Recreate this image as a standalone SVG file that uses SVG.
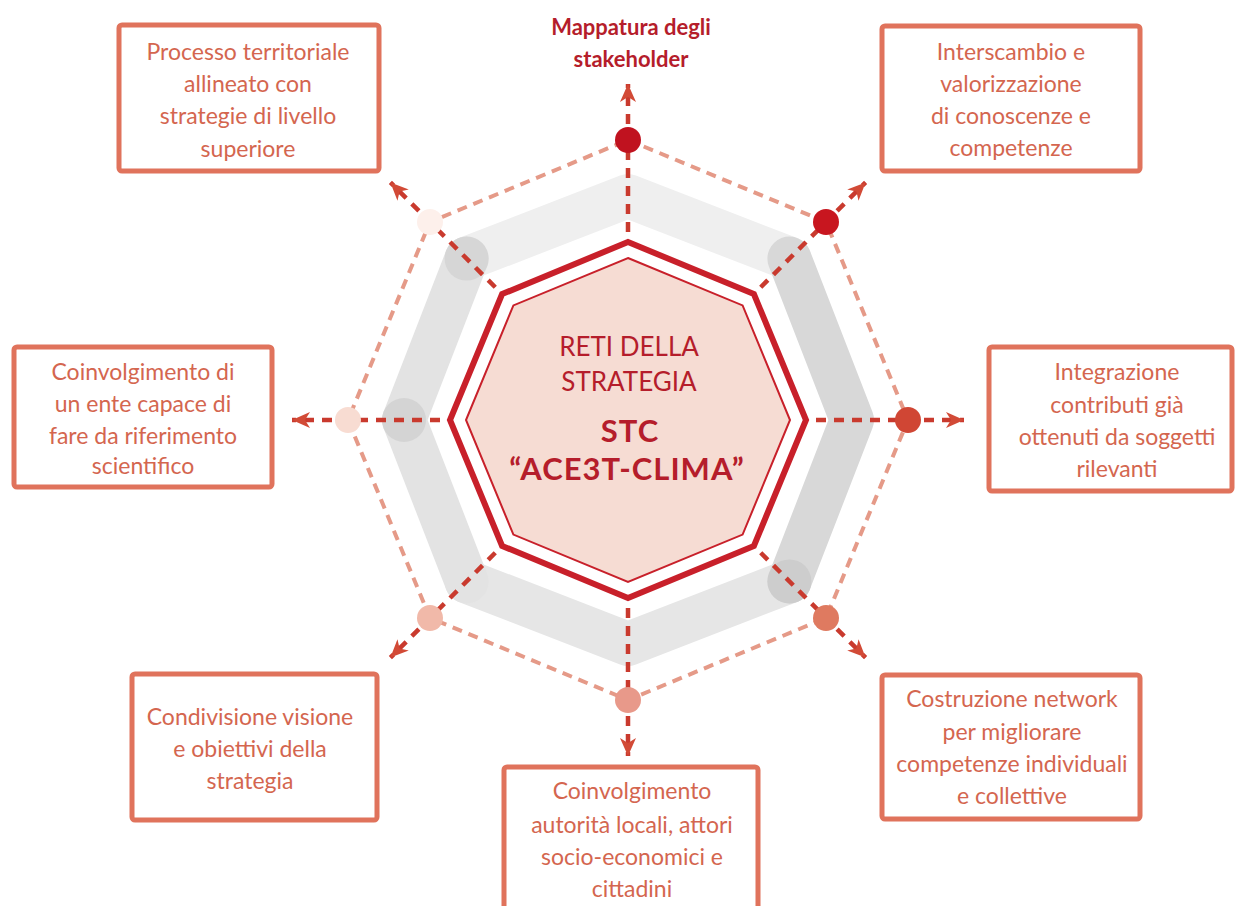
<svg xmlns="http://www.w3.org/2000/svg" width="1236" height="906" viewBox="0 0 1236 906">
<defs>
<style>
.box rect{fill:#fff;stroke:#e0735c;stroke-width:5}
.box text{font-family:Lato,"Liberation Sans",sans-serif;font-size:23px;fill:#d4664f;text-anchor:middle}
.axis{stroke:#c93a2e;stroke-width:4.5;stroke-dasharray:10 8;fill:none;marker-end:url(#arr)}
.outer{fill:none;stroke:#e59a88;stroke-width:4;stroke-dasharray:10 7}
.ctext{font-family:Lato,"Liberation Sans",sans-serif;text-anchor:middle;fill:#b51d2b}
</style>
<marker id="arr" markerUnits="userSpaceOnUse" markerWidth="22" markerHeight="22" viewBox="0 0 22 22" refX="20" refY="11" orient="auto">
<path d="M20,11 L2,3 L7,11 L2,19 Z" fill="#d24a36"/>
</marker>
</defs>
<rect width="1236" height="906" fill="#fff"/>

<g id="band" fill="none" stroke-width="44" stroke-linejoin="round" stroke-linecap="round">
<polyline points="466.6,258.6 628,196 789.4,258.6" stroke="#efefef"/>
<polyline points="466.6,581.4 628,644 789.4,581.4" stroke="#e6e6e6"/>
<polyline points="466.6,258.6 404,420 466.6,581.4" stroke="#e3e3e3"/>
<polyline points="789.4,258.6 852,420 789.4,581.4" stroke="#d8d8d8"/>
<circle cx="466.6" cy="258.6" r="22" fill="#d6d6d6" stroke="none"/>
<circle cx="404" cy="420" r="22" fill="#d4d4d4" stroke="none"/>
<circle cx="789.4" cy="581.4" r="22" fill="#cdcdcd" stroke="none"/>
</g>

<g id="outer-ring">
<polygon class="outer" points="628,140 826,222 908,420 826,618 628,700 430,618 348,420 430,222"/>
</g>

<g id="connectors">
<line class="axis" x1="628" y1="250" x2="628" y2="84"/>
<line class="axis" x1="748" y1="300" x2="865.6" y2="182.4"/>
<line class="axis" x1="798" y1="420" x2="964" y2="420"/>
<line class="axis" x1="748" y1="540" x2="865.6" y2="657.6"/>
<line class="axis" x1="628" y1="590" x2="628" y2="756"/>
<line class="axis" x1="508" y1="540" x2="390.4" y2="657.6"/>
<line class="axis" x1="458" y1="420" x2="292" y2="420"/>
<line class="axis" x1="508" y1="300" x2="390.4" y2="182.4"/>
</g>

<g id="dots">
<circle cx="628" cy="140" r="13" fill="#c0121f"/>
<circle cx="826" cy="222" r="13" fill="#c8161f"/>
<circle cx="908" cy="420" r="13" fill="#d04634"/>
<circle cx="826" cy="618" r="13" fill="#df7a60"/>
<circle cx="628" cy="700" r="13" fill="#e8998a"/>
<circle cx="430" cy="618" r="13" fill="#f1b9a9"/>
<circle cx="348" cy="420" r="13" fill="#f8dcd2"/>
<circle cx="430" cy="222" r="13" fill="#fdf0eb"/>
</g>

<g id="center">
<polygon points="628,242 753.9,294.1 806,420 753.9,545.9 628,598 502.1,545.9 450,420 502.1,294.1" fill="#fff" stroke="#c8202a" stroke-width="6" stroke-linejoin="miter"/>
<polygon points="628,258 742.6,305.4 790,420 742.6,534.6 628,582 513.4,534.6 466,420 513.4,305.4" fill="#f6dcd3" stroke="#c8202a" stroke-width="2"/>
<text class="ctext" x="629" y="356" font-size="26">RETI DELLA</text>
<text class="ctext" x="629" y="391" font-size="26">STRATEGIA</text>
<text class="ctext" x="630" y="442" font-size="31" font-weight="bold" letter-spacing="1">STC</text>
<text class="ctext" x="627" y="480" font-size="31" font-weight="bold" letter-spacing="1">“ACE3T-CLIMA”</text>
</g>

<g id="n-top">
<text class="ctext" x="631" y="35" font-size="22" font-weight="bold" fill="#c01a2a">Mappatura degli</text>
<text class="ctext" x="631" y="67" font-size="22" font-weight="bold" fill="#c01a2a">stakeholder</text>
</g>

<g id="n-topleft" class="box">
<rect x="119" y="25" width="260" height="146" rx="3"/>
<text x="248" y="60">Processo territoriale</text>
<text x="248" y="92">allineato con</text>
<text x="248" y="124">strategie di livello</text>
<text x="248" y="157">superiore</text>
</g>

<g id="n-topright" class="box">
<rect x="882" y="26" width="258" height="145" rx="3"/>
<text x="1011" y="60">Interscambio e</text>
<text x="1011" y="92">valorizzazione</text>
<text x="1011" y="124">di conoscenze e</text>
<text x="1011" y="156">competenze</text>
</g>

<g id="n-right" class="box">
<rect x="989" y="347" width="243" height="144" rx="3"/>
<text x="1117" y="380">Integrazione</text>
<text x="1117" y="413">contributi già</text>
<text x="1117" y="445">ottenuti da soggetti</text>
<text x="1117" y="477">rilevanti</text>
</g>

<g id="n-left" class="box">
<rect x="14" y="347" width="258" height="140" rx="3"/>
<text x="143" y="380">Coinvolgimento di</text>
<text x="143" y="412">un ente capace di</text>
<text x="143" y="444">fare da riferimento</text>
<text x="143" y="474">scientifico</text>
</g>

<g id="n-bottomleft" class="box">
<rect x="132" y="674" width="245" height="146" rx="3"/>
<text x="250" y="725">Condivisione visione</text>
<text x="250" y="757">e obiettivi della</text>
<text x="250" y="789">strategia</text>
</g>

<g id="n-bottom" class="box">
<rect x="504" y="767" width="254" height="160" rx="3"/>
<text x="632" y="799">Coinvolgimento</text>
<text x="632" y="833">autorità locali, attori</text>
<text x="632" y="865">socio-economici e</text>
<text x="632" y="897">cittadini</text>
</g>

<g id="n-bottomright" class="box">
<rect x="882" y="675" width="258" height="144" rx="3"/>
<text x="1012" y="707">Costruzione network</text>
<text x="1012" y="740">per migliorare</text>
<text x="1012" y="772">competenze individuali</text>
<text x="1012" y="804">e collettive</text>
</g>
</svg>
